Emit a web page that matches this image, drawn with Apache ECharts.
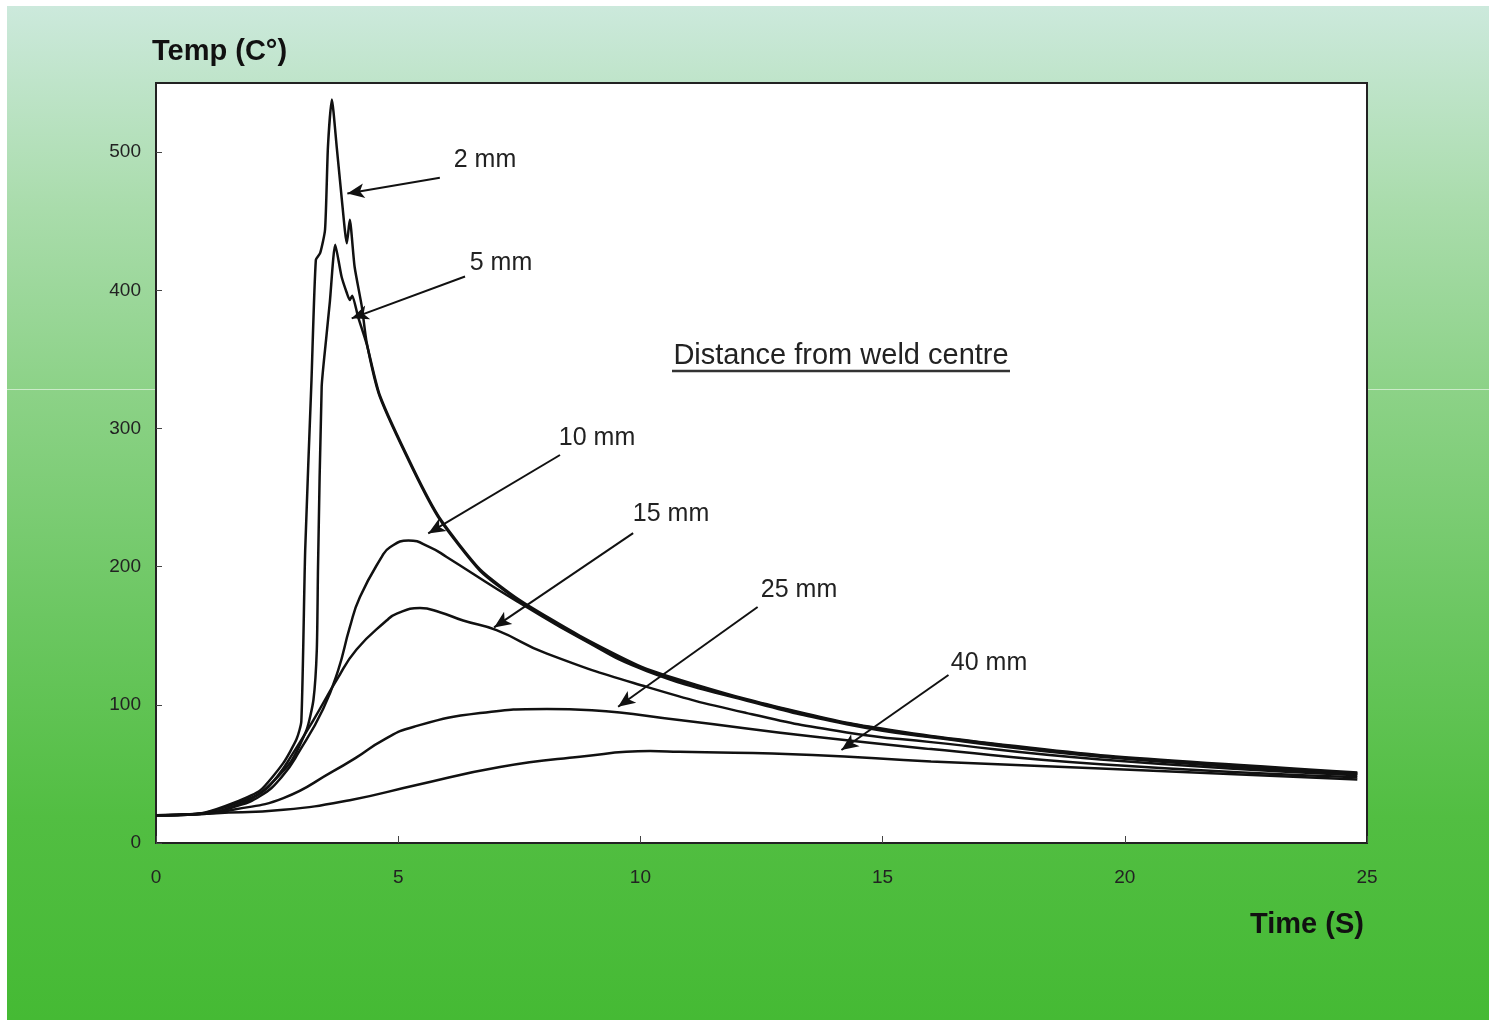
<!DOCTYPE html>
<html>
<head>
<meta charset="utf-8">
<script src="https://cdn.jsdelivr.net/npm/echarts@6/dist/echarts.min.js"></script>
<style>
  html, body { margin: 0; padding: 0; background: #fff; }
  #bg { position: absolute; left: 7px; top: 6px; width: 1482px; height: 1014px;
        background: linear-gradient(to bottom, #cce9dc 0%, #a9dcab 20%, #8cd287 38%, #6cc762 60%, #52be42 80%, #45ba34 100%); }
  #seam { position: absolute; left: 7px; top: 389px; width: 1482px; height: 1px; background: rgba(255,255,255,0.55); }
  #chart { position: absolute; left: 0; top: 0; width: 1489px; height: 1020px; }
</style>
</head>
<body>
<div id="bg"></div>
<div id="seam"></div>
<div id="chart"></div>
<script>
// ---- data: [time (s), temperature (°C)] ----
const curve2mm = [[0,20],[0.5,20.5],[1,22],[1.6,29],[2.15,38],[2.63,58],[2.9,75],[3.0,88],[3.08,212],[3.21,335],[3.30,422],[3.39,427],[3.49,444],[3.55,504],[3.63,538],[3.73,504],[3.83,468],[3.94,434],[4.0,451],[4.1,417],[4.25,388],[4.35,362],[4.62,323],[5.31,270],[5.86,234],[6.69,197],[7.5,175],[8.75,149],[10.13,125],[12.2,103.5],[14.26,86.6],[16,77],[19.5,63],[24.8,50.5]];
const curve5mm = [[0,20],[0.5,20.4],[1,21.8],[1.6,28],[2.15,36],[2.77,58],[3.11,82],[3.25,103.5],[3.32,140],[3.345,200],[3.42,330],[3.51,364],[3.59,392],[3.7,433],[3.83,410],[3.94,398],[4.0,393],[4.05,396],[4.17,381],[4.35,361],[4.62,324],[5.31,271],[5.86,235],[6.69,198],[7.5,176],[8.75,150],[10.13,126],[12.2,104],[14.26,87],[16,77.5],[19.5,63.5],[24.8,51]];
const curve10mm = [[0,20],[0.5,20.3],[1,21.3],[1.6,26],[2.15,34],[2.6,48],[2.97,67],[3.45,97],[3.76,125],[4.0,156],[4.21,178],[4.66,207],[4.83,214],[5.21,219],[5.66,214],[6.0,207],[7.03,184],[7.5,174],[8.75,148.5],[10.13,124.5],[12.2,103],[14.26,86],[16,76.5],[19.5,62.5],[24.8,50]];
const curve15mm = [[0,20],[0.5,20.3],[1,21.3],[1.6,26.5],[2.15,36],[2.5,48],[2.83,65],[3.25,89],[3.73,118],[4.14,140],[4.76,161],[4.97,166],[5.45,170],[5.86,167],[6.34,161],[7.03,154],[8.07,137],[10.13,113],[12.2,94],[14.26,80],[16,73],[19.5,60.5],[24.8,49]];
const curve25mm = [[0,20],[1,21],[1.59,24],[2.63,32.5],[3.66,52],[4.14,62],[4.69,74.5],[5.31,84],[6.69,94],[8.07,97],[9,96],[10.8,89],[13.56,77],[16,68],[19.5,57],[24.8,47.5]];
const curve40mm = [[0,20],[1.25,21.6],[2.63,24],[4.0,31],[5.38,42],[7.1,55],[8.75,62.4],[10.2,66.5],[10.8,66],[13.56,63.7],[16,59],[19.5,54],[24.8,46]];

const seriesNames = ['2 mm','5 mm','10 mm','15 mm','25 mm','40 mm'];
const xTicks = [0,5,10,15,20,25];
const yTicks = [0,100,200,300,400,500];

// arrows from label to curve: [fromTime, fromTemp, toTime, toTemp]
const arrows = [
  [5.86,481.5,3.95,470],
  [6.38,410,4.04,379.7],
  [8.34,280.8,5.62,224],
  [9.85,224.3,6.98,156],
  [12.42,170.8,9.54,98.6],
  [16.36,121.6,14.15,67.3]
];

const chart = echarts.init(document.getElementById('chart'), null, {renderer: 'canvas'});
const curves = [curve2mm, curve5mm, curve10mm, curve15mm, curve25mm, curve40mm];
const smoothness = [0.2, 0.2, 0.5, 0.5, 0.5, 0.5];
const lineSeries = curves.map((d, i) => ({
  name: seriesNames[i],
  type: 'line',
  data: d,
  showSymbol: false,
  symbol: 'none',
  smooth: smoothness[i],
  lineStyle: { color: '#111', width: 2.5 },
  z: 3
}));
lineSeries.push({
  type: 'line',
  data: [],
  silent: true,
  markLine: {
    silent: true,
    animation: false,
    symbol: ['none', 'arrow'],
    symbolSize: [11, 17],
    label: { show: false },
    lineStyle: { color: '#111', width: 2, type: 'solid' },
    emphasis: { disabled: true },
    data: arrows.map(a => [{ coord: [a[0], a[1]] }, { coord: [a[2], a[3]] }])
  }
});

const labelFont = '"Liberation Sans", Arial, sans-serif';
const textLabels = [
  ['2 mm', 485, 160], ['5 mm', 501, 263], ['10 mm', 597, 438],
  ['15 mm', 671, 514], ['25 mm', 799, 590], ['40 mm', 989, 663]
];

chart.setOption({
  animation: false,
  backgroundColor: 'transparent',
  grid: { left: 156, right: 122, top: 83, bottom: 177, show: true,
          backgroundColor: '#ffffff', borderColor: '#222', borderWidth: 2 },
  xAxis: {
    type: 'value', min: 0, max: 25, interval: 5,
    axisLine: { show: true, lineStyle: { color: '#222', width: 2 } },
    axisTick: { show: true, inside: true, length: 7, lineStyle: { color: '#444', width: 1 }, customValues: xTicks },
    axisLabel: { color: '#222', fontSize: 19, fontFamily: labelFont, margin: 25, customValues: xTicks },
    splitLine: { show: false }
  },
  yAxis: {
    type: 'value', min: 0, max: 550, interval: 100,
    axisLine: { show: true, lineStyle: { color: '#222', width: 2 } },
    axisTick: { show: true, inside: true, length: 6, lineStyle: { color: '#444', width: 1 }, customValues: yTicks },
    axisLabel: { color: '#222', fontSize: 19, fontFamily: labelFont, margin: 15, customValues: yTicks },
    splitLine: { show: false }
  },
  graphic: [
    { type: 'text', left: 152, top: 37, z: 10,
      style: { text: 'Temp (C°)', fill: '#111', font: 'bold 29px ' + labelFont } },
    { type: 'text', left: 1250, top: 910, z: 10,
      style: { text: 'Time (S)', fill: '#111', font: 'bold 29px ' + labelFont } },
    { type: 'text', x: 841, y: 356, z: 10,
      style: { text: 'Distance from weld centre', fill: '#222', font: '29px ' + labelFont,
               textAlign: 'center', textVerticalAlign: 'middle' } },
    { type: 'line', z: 10, shape: { x1: 672, y1: 371, x2: 1010, y2: 371 },
      style: { stroke: '#333', lineWidth: 2.5 } }
  ].concat(textLabels.map(t => ({
    type: 'text', x: t[1], y: t[2], z: 10,
    style: { text: t[0], fill: '#222', font: '25px ' + labelFont, textAlign: 'center', textVerticalAlign: 'middle' }
  }))),
  series: lineSeries
});
</script>
</body>
</html>
